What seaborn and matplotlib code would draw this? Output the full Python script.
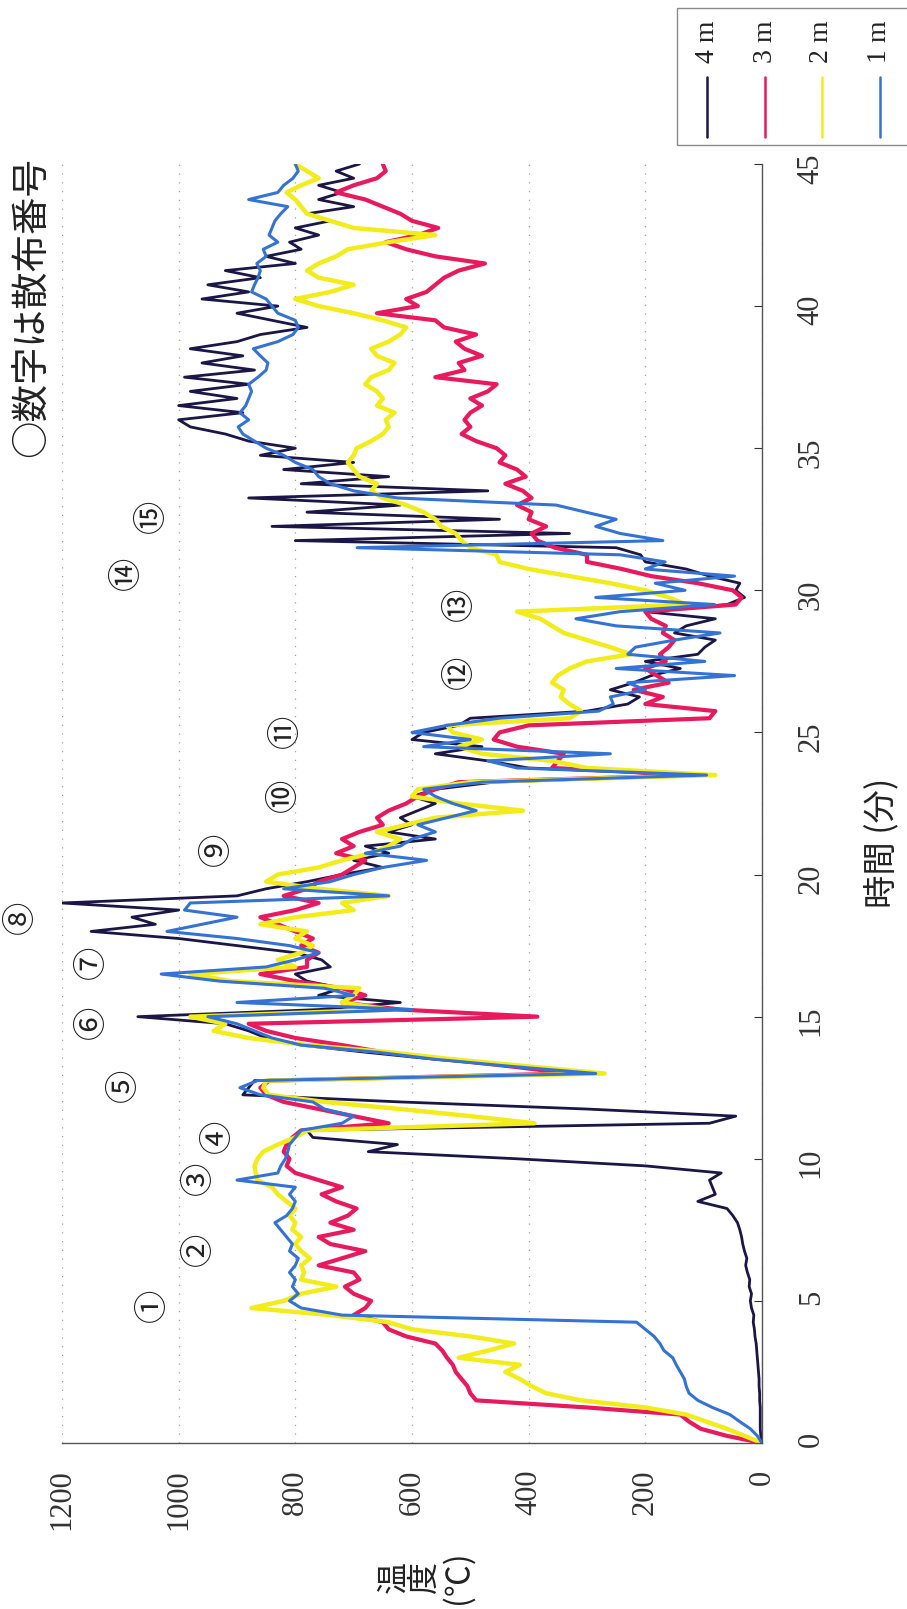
import numpy as np
import pandas as pd
import matplotlib
matplotlib.use("Agg")
import matplotlib.pyplot as plt
from matplotlib.lines import Line2D
from matplotlib.patches import Rectangle
import seaborn as sns

# Sampling times (minutes), every 15 s
minutes = np.arange(0, 45.01, 0.25)

# Temperatures (°C) at each height, one row per minute (4 samples each)
temp_4m = [
    0, 2, 3, 3,   3, 3, 4, 4,   5, 5, 6, 7,   8, 9, 10, 12,   13, 15, 14, 18,
    20, 18, 22, 21,   25, 28, 26, 30,   33, 35, 38, 42,   50, 60, 110, 80,   85, 90, 70, 200,
    420, 675, 625, 770,   780, 90, 45, 300,   620, 890, 880, 870,   300, 420, 560, 680,   790, 850, 880, 920,
    1070, 760, 620, 760,   720, 780, 800, 740,   755, 800, 900, 1000,   1150, 1040, 1080, 1000,   1200, 900, 850, 780,
    720, 650, 700, 640,   680, 560, 640, 600,   620, 590, 560, 600,   560, 460, 100, 400,   470, 560, 480, 600,
    580, 520, 500, 300,   230, 210, 260, 220,   190, 140, 200, 110,   98, 80, 150, 130,   80, 200, 60, 30,
    45, 38, 90, 130,   200, 208, 250, 800,   330, 840, 450, 780,   620, 880, 470, 790,   640, 820, 700, 860,
    800, 880, 920, 980,   1000, 890, 1000, 900,   980, 880, 990, 870,   960, 890, 980, 900,   860, 780, 840, 900,
    830, 960, 880, 950,   860, 920, 800, 850,   790, 810, 760, 800,   740, 780, 700, 760,   720, 760, 700, 730,
    690,
]
temp_3m = [
    0, 60, 105, 125,   140, 300, 490, 500,   505, 515, 525, 530,   540, 548, 560, 610,   640, 650, 700, 680,
    670, 700, 715, 690,   700, 760, 720, 680,   740, 760, 700, 740,   710, 695, 730, 755,   720, 760, 800, 815,
    810, 820, 815, 805,   790, 640, 700, 760,   820, 850, 860, 845,   330, 430, 540, 650,   720, 800, 850, 880,
    385, 620, 720, 680,   720, 800, 860, 780,   780, 760, 790, 770,   800, 830, 860, 800,   760, 820, 780, 760,
    720, 700, 680, 730,   700, 720, 690, 650,   660, 640, 610, 590,   560, 520, 110, 360,   350, 340, 420, 460,
    450, 400, 90, 80,   200, 170, 220, 160,   180, 200, 165, 175,   160, 150, 170, 165,   190, 200, 45, 35,
    50, 110, 190, 240,   300, 300, 355, 385,   395, 370, 400, 395,   420, 395, 410, 440,   405, 420, 450, 440,
    455, 490, 515, 500,   510, 500, 480, 500,   470, 455, 560, 510,   520, 480, 510, 525,   490, 545, 560, 660,
    590, 610, 575, 560,   545, 520, 475, 560,   610, 645, 590, 555,   600, 620, 650, 680,   730, 700, 660, 645,
    650,
]
temp_2m = [
    0, 30, 60, 95,   130, 200, 310, 370,   395, 415, 440, 415,   520, 470, 425, 500,   600, 640, 740, 875,
    820, 790, 730, 790,   785, 790, 775, 790,   800, 790, 805, 800,   810, 800, 815, 830,   840, 865, 868, 870,
    865, 855, 830, 800,   780, 390, 500, 620,   750, 845, 855, 850,   270, 400, 530, 640,   780, 880, 940, 920,
    980, 640, 720, 700,   690, 910, 980, 800,   830, 790, 770, 800,   780, 860, 800, 700,   720, 640, 760, 850,
    830, 760, 720, 670,   640, 620, 660, 610,   560, 410, 520, 600,   590, 500, 80, 300,   360, 480, 520, 480,
    530, 540, 330, 310,   330, 345, 340, 360,   350, 330, 300, 225,   260, 300, 340, 360,   380, 420, 130, 160,
    200, 260, 330, 400,   450, 455, 500, 515,   525, 550, 560, 580,   610, 650, 670, 660,   690, 700, 710, 700,
    695, 670, 650, 640,   645, 630, 660, 650,   660, 680, 670, 640,   630, 660, 670, 640,   620, 610, 650, 700,
    760, 800, 740, 700,   760, 780, 760, 730,   710, 640, 560, 700,   740, 780, 790, 800,   815, 790, 760, 780,
    800,
]
temp_1m = [
    0, 8, 20, 38,   55, 85, 110, 125,   130, 133, 140, 147,   153, 168, 175, 185,   200, 215, 720, 790,
    810, 795, 805, 800,   810, 800, 795, 810,   805, 815, 825, 835,   815, 805, 800, 810,   800, 900, 830, 825,
    817, 813, 810, 800,   790, 720, 700, 750,   770, 860, 895, 865,   285, 430, 560, 660,   790, 840, 870, 900,
    950, 600, 900, 700,   750, 930, 1030, 850,   800, 760, 810, 900,   1020, 960, 900, 990,   980, 640, 820, 740,
    700, 650, 575, 680,   620, 600, 560, 590,   540, 490, 530, 560,   580, 480, 95, 420,   470, 260, 580, 500,
    600, 540, 450, 280,   255, 260, 200, 230,   47, 250, 98, 230,   217, 150, 72, 250,   319, 243, 81, 285,
    132, 183, 47, 200,   166, 243, 694, 170,   243, 285, 250, 302,   353, 625, 700, 740,   760, 770, 800, 820,
    850, 870, 890, 898,   880, 895, 885, 880,   875, 880, 864, 850,   847, 860, 872, 830,   804, 795, 800, 830,
    840, 850, 875, 870,   864, 860, 866, 850,   855, 830, 845, 840,   835, 825, 813, 880,   830, 820, 804, 795,
    800,
]

depth_labels = ["4 m", "3 m", "2 m", "1 m"]
depth_temps = [temp_4m, temp_3m, temp_2m, temp_1m]
line_colors = ["#1b1646", "#e8195c", "#f2ec1a", "#3472d4"]
line_widths = [2.0, 3.0, 3.2, 2.2]

temp_ticks = [0, 200, 400, 600, 800, 1000, 1200]
time_ticks = [0, 5, 10, 15, 20, 25, 30, 35, 40, 45]

# Spray event markers: label, time (min), temperature level for placement
spray_marks = ["①", "②", "③", "④", "⑤", "⑥", "⑦", "⑧", "⑨", "⑩", "⑪", "⑫", "⑬", "⑭", "⑮"]
spray_times = [4.86, 6.8, 9.3, 10.8, 12.6, 14.8, 16.9, 18.5, 20.9, 22.8, 25.05, 27.1, 29.5, 30.6, 32.6]
spray_levels = [1045, 966, 966, 934, 1094, 1149, 1149, 1272, 936, 821, 817, 519, 519, 1089, 1047]

frames = []
for lab, temps in zip(depth_labels, depth_temps):
    assert len(temps) == len(minutes)
    frames.append(pd.DataFrame({"時間": minutes, "温度": temps, "深さ": lab}))
df = pd.concat(frames, ignore_index=True)

sns.set_style("white")
cjk = ["Noto Sans CJK JP", "DejaVu Sans"]
serif = ["Liberation Serif", "DejaVu Serif"]
# Numbers in serif; Japanese texts name the CJK family explicitly
plt.rcParams["font.family"] = serif

W, H = 907, 1609
fig = plt.figure(figsize=(W / 100, H / 100), dpi=100)
ax = fig.add_axes([62 / W, 1 - 1443 / H, 700 / W, 1279 / H])

for lab, col, lw in zip(depth_labels, line_colors, line_widths):
    sns.lineplot(data=df[df["深さ"] == lab], x="温度", y="時間", orient="y",
                 sort=False, estimator=None, color=col, linewidth=lw, ax=ax, legend=False)

ax.set_xlim(1200, 0)
ax.set_ylim(0, 45)
ax.set_xticks(temp_ticks)
ax.set_yticks(time_ticks)
ax.yaxis.tick_right()

ax.tick_params(axis="x", direction="in", length=6, width=0.8, pad=19, labelsize=22,
               labelrotation=90, colors="#333333")
ax.tick_params(axis="y", direction="in", length=6, width=0.8, pad=25, labelsize=22,
               labelrotation=90, colors="#333333",
               left=False, right=True, labelleft=False, labelright=True)

ax.grid(axis="x", color="#a0a0a0", linestyle=(0, (1, 6)), linewidth=0.9)
ax.grid(axis="y", visible=False)
for s in ["top", "left"]:
    ax.spines[s].set_visible(False)
for s in ["bottom", "right"]:
    ax.spines[s].set_color("#555555")
    ax.spines[s].set_linewidth(1.0)

# Axis titles (vertical Japanese layout turned with the chart)
ax.set_xlabel("温\n度\n(℃)", rotation=90, fontsize=23, linespacing=1.0,
              family=cjk, color="#222222")
ax.xaxis.label.set_va("center")
ax.xaxis.set_label_coords(0.519, -0.105)

ax.yaxis.set_label_position("right")
ax.set_ylabel("時間 (分)", rotation=90, fontsize=24, family=cjk, color="#222222")
ax.yaxis.label.set_va("center")
ax.yaxis.label.set_ha("center")
ax.yaxis.set_label_coords(1.171, 0.469)

# Spray number markers
for mark, t, lvl in zip(spray_marks, spray_times, spray_levels):
    ax.text(lvl, t, mark, rotation=90, ha="center", va="center", fontsize=24,
            family=cjk, color="#222222", clip_on=False)

fig.text(32 / W, 1 - 307 / H, "○数字は散布番号", rotation=90, ha="center", va="center",
         fontsize=27, family=cjk, color="#222222")

# Legend box with vertical key lines
fig.add_artist(Rectangle((677 / W, 1 - 145 / H), 240 / W, 137 / H, transform=fig.transFigure,
                         fill=False, edgecolor="#8a8a8a", linewidth=1.0))
legend_x = [707, 765, 822, 880]
for lab, col, x in zip(depth_labels, line_colors, legend_x):
    fig.add_artist(Line2D([x / W, x / W], [1 - 77 / H, 1 - 137 / H], transform=fig.transFigure,
                          color=col, linewidth=1.8))
    fig.text(x / W, 1 - 42 / H, lab, rotation=90, ha="center", va="center", fontsize=20,
             family=serif, color="#222222")

fig.savefig("out.png", dpi=100, facecolor="white")
